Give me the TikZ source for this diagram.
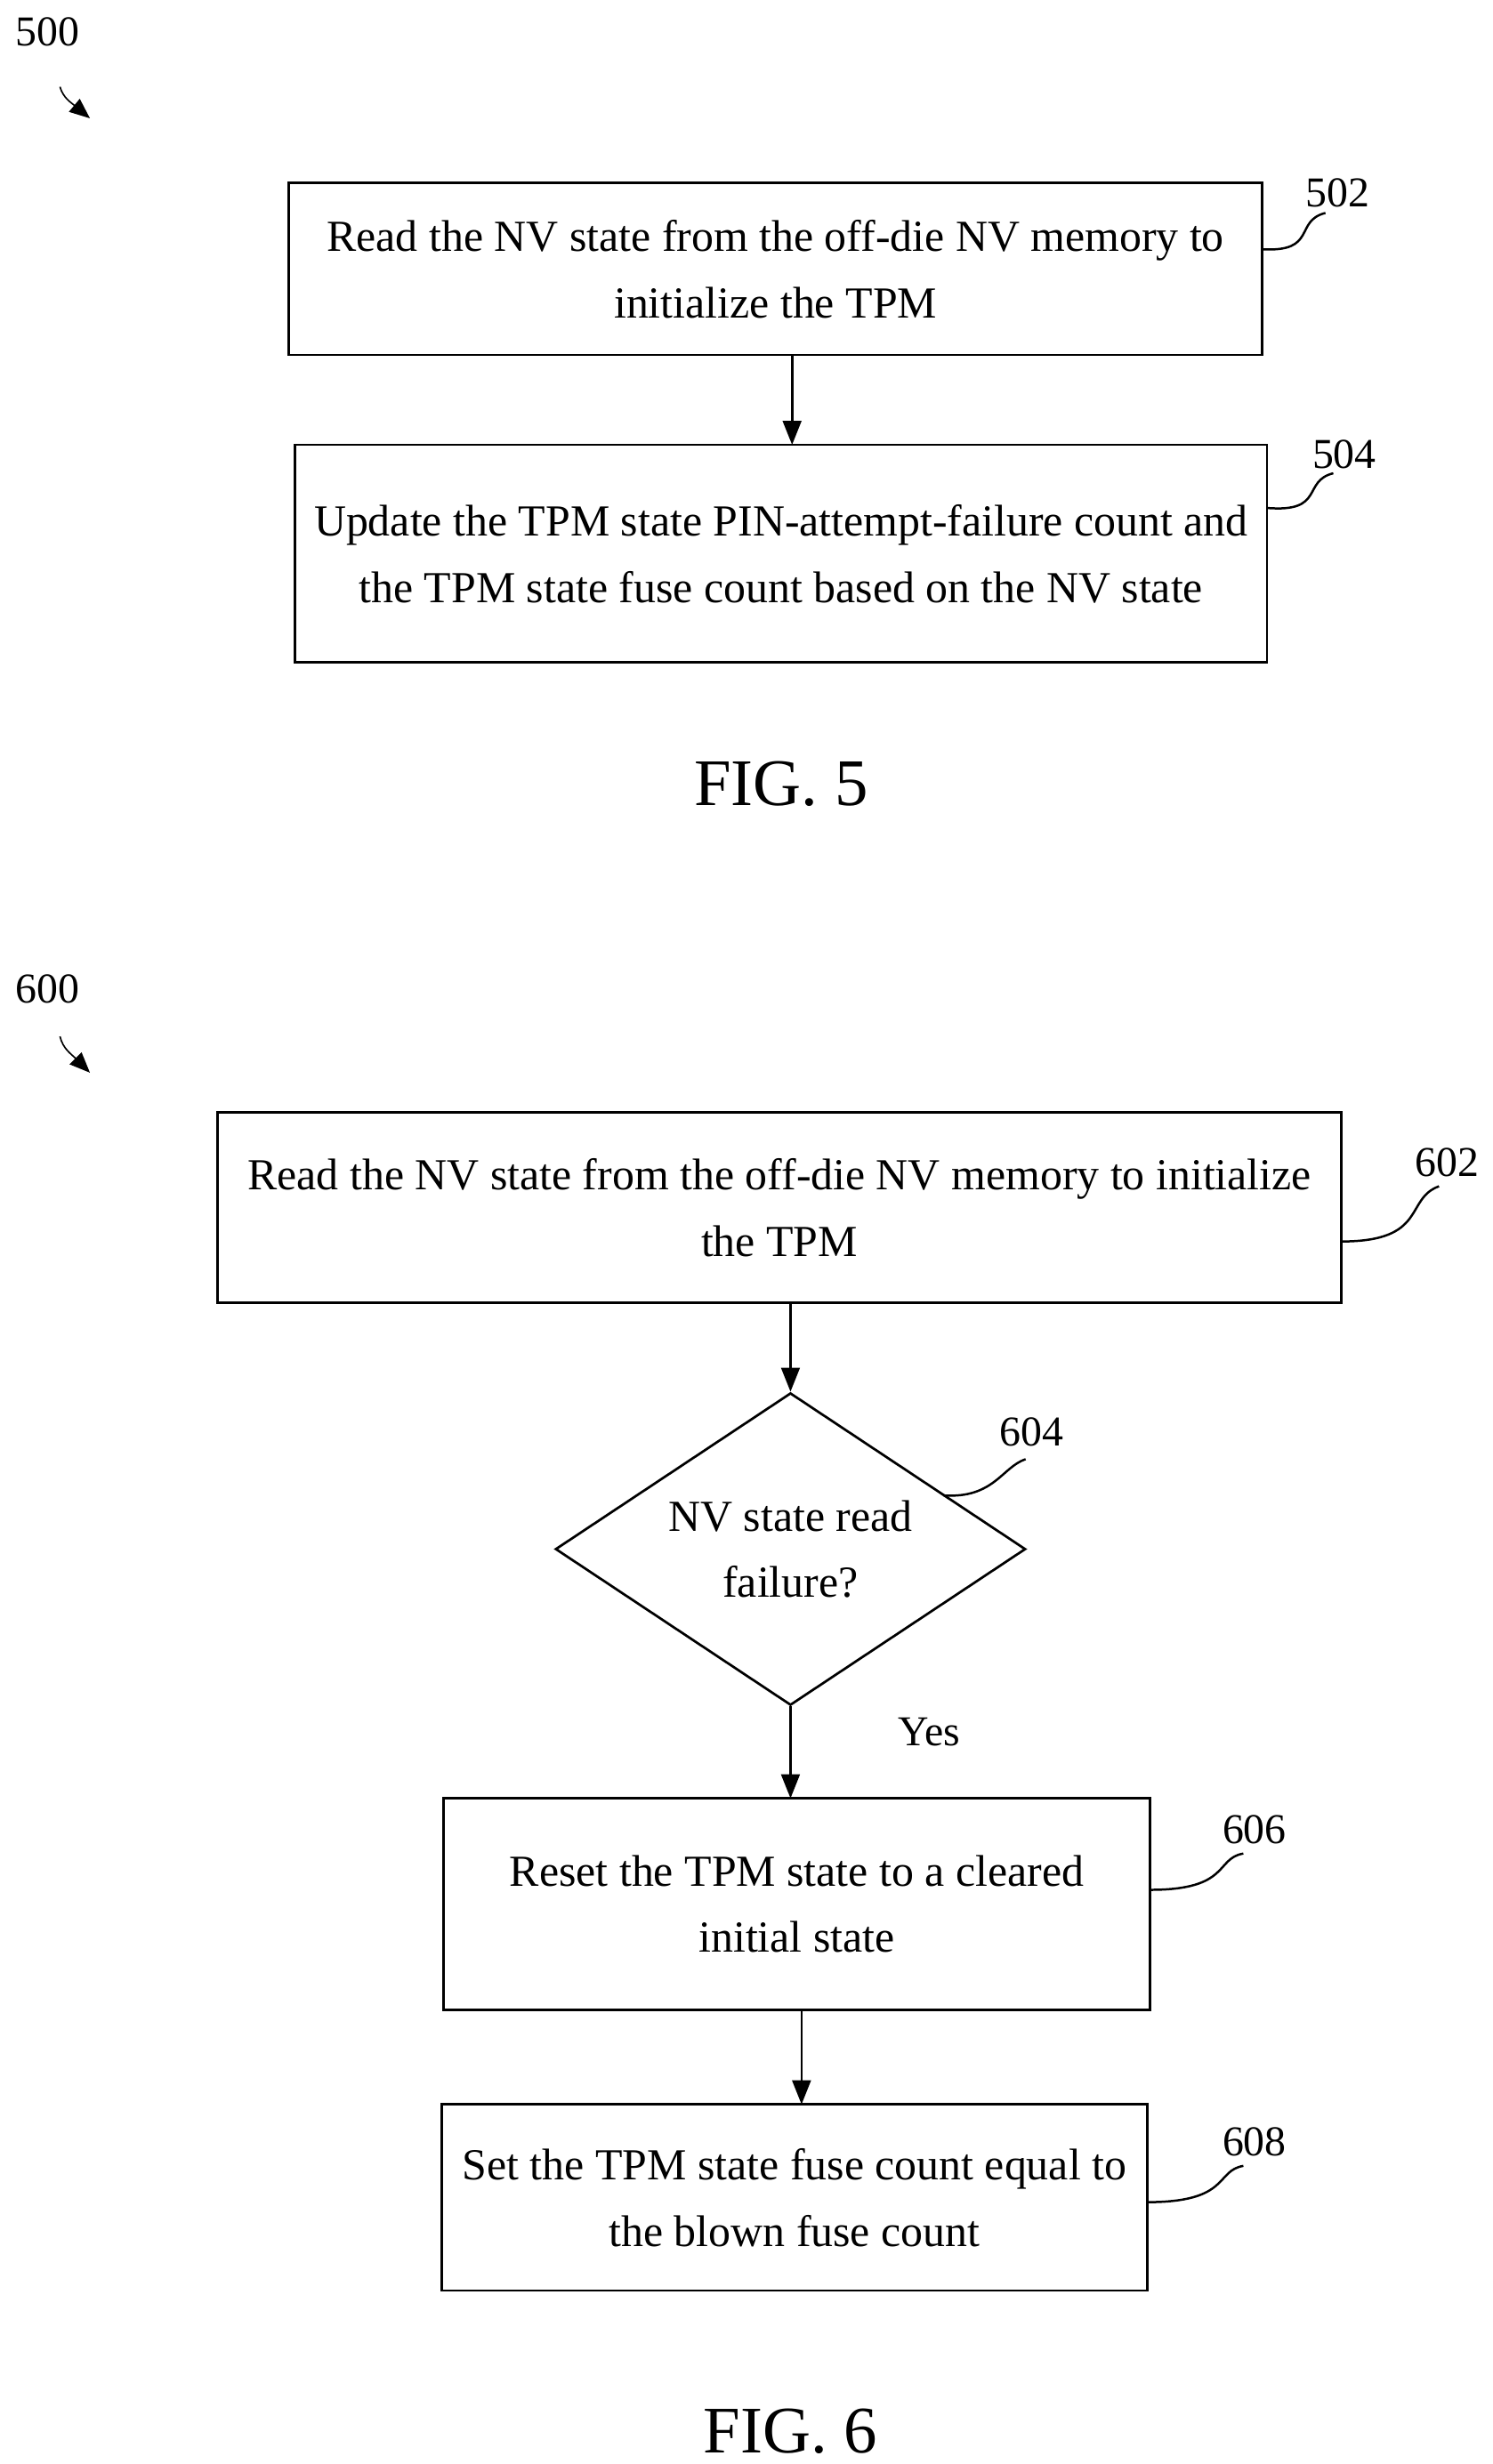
\documentclass[tikz,border=0pt]{standalone}
\usepackage{fontspec}
\setmainfont{Liberation Serif}
\usetikzlibrary{arrows.meta,shapes.geometric}
\begin{document}
\begin{tikzpicture}[x=0.03cm,y=-0.03cm,
 box/.style={draw,line width=1.3pt,align=center,font=\fontsize{24}{36}\selectfont},
 lbl/.style={font=\fontsize{23}{26}\selectfont},
 arr/.style={line width=1.3pt,-{Triangle[length=13pt,width=10pt]}},
 squig/.style={line width=1.2pt}]
\useasboundingbox (0,0) rectangle (946,1562);
\node[lbl] (n500) at (30,20) {500};
\draw[line width=0.8pt,-{Triangle[length=11pt,width=9pt]}] (38,55) .. controls (40,62) and (45,65) .. (57,75);
\node[box,minimum width=617*0.03cm,minimum height=109*0.03cm] (b502) at (491.5,170.5) {Read the NV state from the off-die NV memory to\\initialize the TPM};
\node[box,minimum width=616*0.03cm,minimum height=138*0.03cm] (b504) at (495,351) {Update the TPM state PIN-attempt-failure count and\\the TPM state fuse count based on the NV state};
\draw[arr] (502,225) -- (502,282);
\node[lbl] (l502) at (848,122) {502};
\draw[squig] (800,158) .. controls (835,160) and (820,140) .. (840,135);
\node[lbl] (l504) at (852,288) {504};
\draw[squig] (803,322) .. controls (840,325) and (825,305) .. (845,300);
\node[font=\fontsize{36}{40}\selectfont] (f5) at (495,497) {FIG. 5};
\node[lbl] (n600) at (30,627) {600};
\draw[line width=0.8pt,-{Triangle[length=11pt,width=9pt]}] (38,657) .. controls (40,665) and (45,668) .. (57,680);
\node[box,minimum width=712*0.03cm,minimum height=121*0.03cm] (b602) at (494,765.5) {Read the NV state from the off-die NV memory to initialize\\the TPM};
\node[lbl] (l602) at (917,737) {602};
\draw[squig] (850,787) .. controls (905,787) and (890,760) .. (912,752);
\node[draw,diamond,line width=1.3pt,minimum width=298*0.03cm,minimum height=198*0.03cm,inner sep=0pt] (d604) at (501,982) {};
\node[font=\fontsize{24}{36}\selectfont,align=center] (t604) at (501,982) {NV state read\\failure?};
\node[lbl] (l604) at (654,908) {604};
\draw[squig] (598,948) .. controls (630,950) and (635,930) .. (650,925);
\draw[arr] (501,826) -- (d604.north);
\draw[arr] (d604.south) -- (501,1140);
\node[lbl] at (589,1098) {Yes};
\node[box,minimum width=448*0.03cm,minimum height=134*0.03cm] (b606) at (505,1207) {Reset the TPM state to a cleared\\initial state};
\node[lbl] (l606) at (795,1160) {606};
\draw[squig] (729,1198) .. controls (780,1198) and (770,1178) .. (788,1175);
\node[box,minimum width=447*0.03cm,minimum height=118*0.03cm] (b608) at (503.5,1393) {Set the TPM state fuse count equal to\\the blown fuse count};
\node[lbl] (l608) at (795,1358) {608};
\draw[squig] (727,1396) .. controls (780,1396) and (770,1376) .. (788,1373);
\draw[arr] (508,1274) -- (508,1334);
\node[font=\fontsize{36}{40}\selectfont] (f6) at (501,1541) {FIG. 6};
\end{tikzpicture}
\end{document}
